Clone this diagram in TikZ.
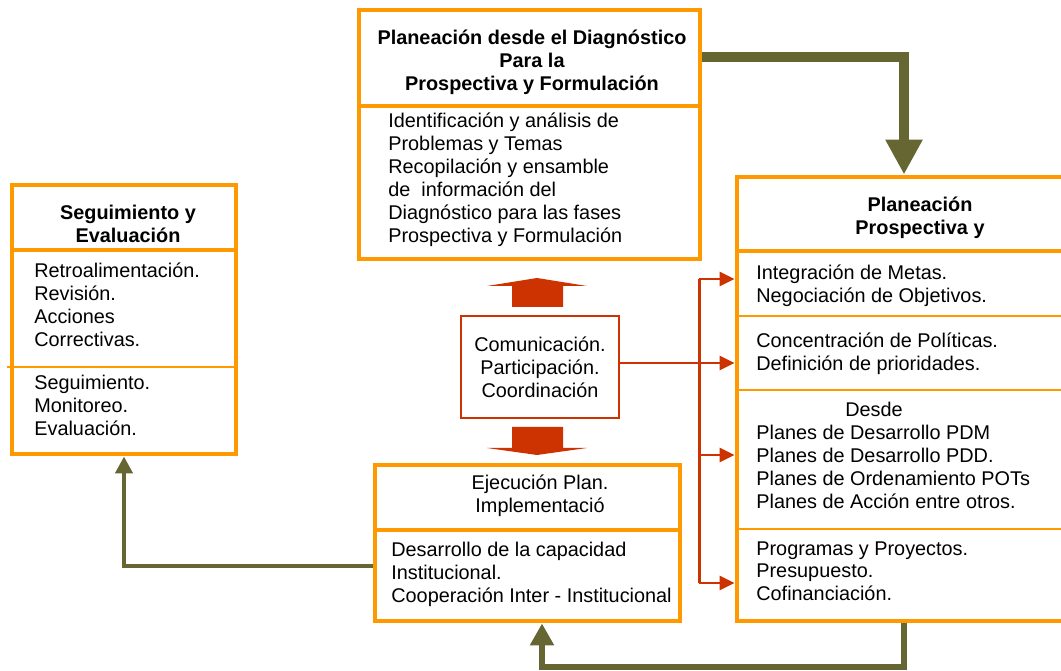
\documentclass[tikz,border=0pt]{standalone}
\usepackage{fontspec}
\setmainfont{Liberation Sans}
\usetikzlibrary{arrows.meta,fit,positioning}

\definecolor{naranja}{HTML}{FF9900}
\definecolor{oliva}{HTML}{666633}
\definecolor{rojo}{HTML}{CC3300}

\begin{document}
\begin{tikzpicture}[x = 0.02cm, y = -0.02cm,
    caja/.style   = {draw = naranja, line width = 2.8pt, inner sep = 0pt},
    raya/.style   = {draw = naranja, line width = 2.8pt},
    rayita/.style = {draw = naranja, line width = 0.9pt},
    texto/.style  = {inner sep = 0pt, anchor = north west, align = left,
                     font = \fontsize{11.3}{13}\selectfont},
    titulo/.style = {texto, anchor = north, align = center,
                     font = \fontsize{11.3}{13}\selectfont\bfseries},
    flecha/.style = {draw = oliva},
    roja/.style   = {draw = rojo, line width = 1.7pt}
  ]
    \useasboundingbox (0,0) rectangle (1061,671);
    \clip (0,0) rectangle (1061,671);

    % cajas
    \node[caja, fit = {(12,185) (236,454)}]  (se) {};
    \node[caja, fit = {(359,10) (700,259)}]  (pd) {};
    \node[caja, fit = {(737,177) (1071,621)}] (pp) {};
    \node[caja, fit = {(375,465) (680,621)}] (ep) {};
    \node[texto, anchor = center, align = center, draw = rojo, line width = 0.9pt,
          minimum width = 3.16cm, minimum height = 2.04cm] (cpc) at (540,367)
          {Comunicación.\\Participación.\\Coordinación};

    % divisiones
    \draw[raya]   (se.west |- 0,250) -- (se.east |- 0,250);
    \draw[rayita] (7,367) -- (se.east |- 0,367);
    \draw[raya]   (pd.west |- 0,106) -- (pd.east |- 0,106);
    \draw[raya]   (ep.west |- 0,530) -- (ep.east |- 0,530);
    \draw[raya]   (pp.west |- 0,251) -- (pp.east |- 0,251);
    \foreach \y in {316,390,529}
      \draw[rayita] (pp.west |- 0,\y) -- (pp.east |- 0,\y);

    % textos
    \node[titulo] (se0) at (128,205) {Seguimiento y\\Evaluación};
    \node[texto]  (se1) at (34,263)  {Retroalimentación.\\Revisión.\\Acciones\\Correctivas.};
    \node[texto]  (se2) at (34,375)  {Seguimiento.\\Monitoreo.\\Evaluación.};

    \node[titulo] (pd0) at (532,30)  {Planeación desde el Diagnóstico\\Para la\\Prospectiva y Formulación};
    \node[texto]  (pd1) at (388,113) {Identificación y análisis de\\Problemas y Temas\\Recopilación y ensamble\\de \ información del\\Diagnóstico para las fases\\Prospectiva y Formulación};

    \node[titulo] (pp0) at (920,197) {Planeación\\Prospectiva y};
    \node[texto]  (pp1) at (756,265) {Integración de Metas.\\Negociación de Objetivos.};
    \node[texto]  (pp2) at (756,333) {Concentración de Políticas.\\Definición de prioridades.};
    \node[texto]  (pp3) at (756,402) {\hspace*{1.78cm}Desde\\Planes de Desarrollo PDM\\Planes de Desarrollo PDD.\\Planes de Ordenamiento POTs\\Planes de Acción entre otros.};
    \node[texto]  (pp4) at (756,541) {Programas y Proyectos.\\Presupuesto.\\Cofinanciación.};

    \node[texto, anchor = north, align = center] (ep0) at (540,475) {Ejecución Plan.\\Implementació};
    \node[texto]  (ep1) at (391,542) {Desarrollo de la capacidad\\Institucional.\\Cooperación Inter - Institucional};

    % flechas rojas
    \fill[rojo] (512,307) -- (512,286) -- (487,286) -- (537,278) -- (587,286) -- (563,286) -- (563,307) -- cycle;
    \fill[rojo] (512,427) -- (512,448) -- (487,448) -- (537,455) -- (587,448) -- (563,448) -- (563,427) -- cycle;

    \coordinate (bus1) at (699,279);
    \coordinate (bus2) at (699,583);
    \draw[roja] (bus1) -- (bus2);
    \draw[roja] (cpc.east |- 0,363) -- (699,363);
    \foreach \y in {279,363,455,583}
      \draw[roja, -{Triangle[length = 0.3cm, width = 0.28cm]}] (699,\y) -- (pp.west |- 0,\y);

    % flechas verdes
    \draw[flecha, line width = 5.7pt, -{Triangle[length = 0.7cm, width = 0.7cm]}]
      (pd.east |- 0,57) -| (pp.north);

    \coordinate (vuelta) at (542,667);
    \draw[flecha, line width = 3.4pt, -{Triangle[length = 0.44cm, width = 0.46cm]}]
      (pp.south) |- (vuelta) -- (vuelta |- ep.south);

    \draw[flecha, line width = 2.8pt, -{Triangle[length = 0.34cm, width = 0.34cm]}]
      (ep.west |- 0,566) -| (se.south);

  \end{tikzpicture}
\end{document}
